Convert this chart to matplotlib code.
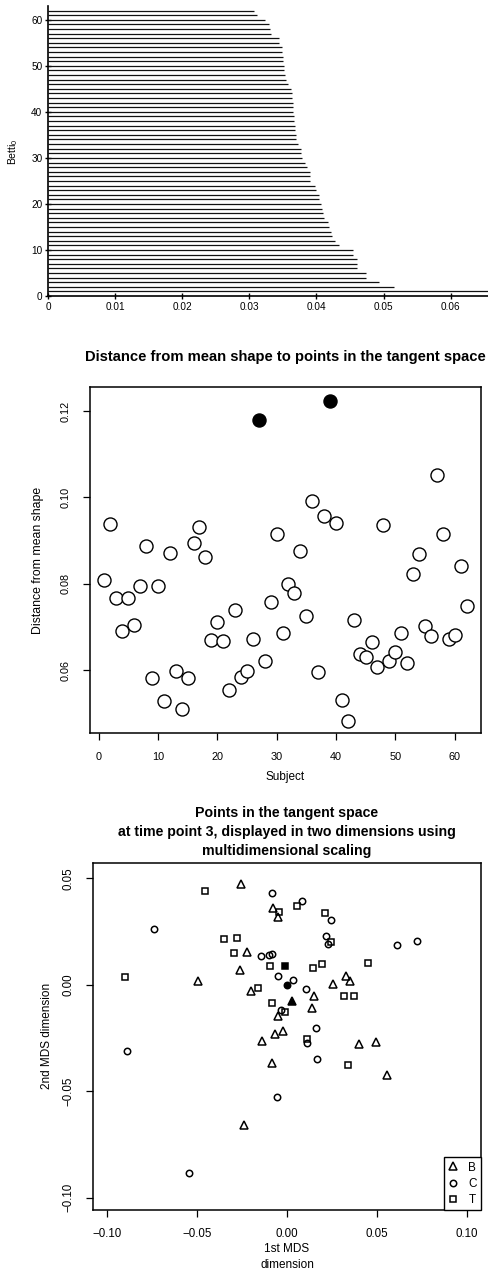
import numpy as np
import matplotlib
matplotlib.use("Agg")
import matplotlib.pyplot as plt
from matplotlib.lines import Line2D

plt.rcParams['font.family'] = ['Liberation Sans', 'DejaVu Sans']
plt.rcParams['mathtext.fontset'] = 'custom'
plt.rcParams['mathtext.rm'] = 'Liberation Sans'
plt.rcParams['mathtext.it'] = 'Liberation Sans'

# ---------------- data ----------------
# Betti-0 barcode: each component is born at 0 and dies at the listed scale;
# the first component never dies.
bar_index = np.arange(1, 63)
bar_death = [np.inf, 0.0515, 0.0493, 0.0474, 0.0474, 0.0461, 0.0460, 0.0460,
             0.0455, 0.0455, 0.0434, 0.0428, 0.0423, 0.0422, 0.0418, 0.0417,
             0.0411, 0.0410, 0.0408, 0.0407, 0.0404, 0.0403, 0.0399, 0.0398,
             0.0391, 0.0390, 0.0390, 0.0386, 0.0383, 0.0378, 0.0377, 0.0377,
             0.0373, 0.0370, 0.0369, 0.0368, 0.0368, 0.0367, 0.0367, 0.0365,
             0.0365, 0.0365, 0.0363, 0.0363, 0.0362, 0.0358, 0.0354, 0.0353,
             0.0352, 0.0351, 0.0350, 0.0350, 0.0349, 0.0348, 0.0344, 0.0344,
             0.0332, 0.0330, 0.0329, 0.0324, 0.0312, 0.0307]
barcode_xticks = [0, 0.01, 0.02, 0.03, 0.04, 0.05, 0.06]
barcode_xlabels = ["0", "0.01", "0.02", "0.03", "0.04", "0.05", "0.06"]
barcode_yticks = [0, 10, 20, 30, 40, 50, 60]

# Distance of each subject's shape from the mean shape
subject = np.arange(1, 63)
distance = [0.0808, 0.0939, 0.0768, 0.0690, 0.0768, 0.0705, 0.0794, 0.0887,
            0.0581, 0.0794, 0.0528, 0.0871, 0.0598, 0.0510, 0.0582, 0.0894,
            0.0932, 0.0863, 0.0670, 0.0712, 0.0668, 0.0553, 0.0740, 0.0584,
            0.0598, 0.0673, 0.1180, 0.0621, 0.0757, 0.0915, 0.0686, 0.0800,
            0.0779, 0.0877, 0.0725, 0.0991, 0.0596, 0.0956, 0.1223, 0.0940,
            0.0530, 0.0482, 0.0715, 0.0636, 0.0630, 0.0666, 0.0607, 0.0937,
            0.0621, 0.0641, 0.0686, 0.0616, 0.0822, 0.0869, 0.0703, 0.0678,
            0.1051, 0.0916, 0.0671, 0.0680, 0.0840, 0.0748]
outlier_subjects = [27, 39]
dist_yticks = [0.06, 0.08, 0.10, 0.12]
dist_ylabels = ["0.06", "0.08", "0.10", "0.12"]

# MDS coordinates at time point 3, by group
b_x = [-0.0256, -0.0078, -0.0048, -0.0225, -0.0260, -0.0493, 0.0330, 0.0349,
       0.0255, -0.0201, 0.0153, 0.0137, -0.0052, -0.0066, -0.0020, -0.0140,
       0.0401, 0.0495, -0.0083, 0.0555, -0.0242]
b_y = [0.0474, 0.0362, 0.0316, 0.0156, 0.0070, 0.0020, 0.0039, 0.0019,
       0.0005, -0.0028, -0.0055, -0.0110, -0.0146, -0.0230, -0.0218, -0.0263,
       -0.0277, -0.0271, -0.0368, -0.0423, -0.0661]
c_x = [-0.0081, 0.0081, 0.0247, -0.0742, 0.0216, 0.0229, 0.0611, 0.0725,
       -0.0144, -0.0100, -0.0081, -0.0052, 0.0035, 0.0103, -0.0035, 0.0159,
       0.0113, 0.0168, -0.0054, -0.0890, -0.0543]
c_y = [0.0430, 0.0394, 0.0305, 0.0260, 0.0227, 0.0191, 0.0189, 0.0207,
       0.0136, 0.0141, 0.0146, 0.0039, 0.0023, -0.0020, -0.0117, -0.0203,
       -0.0274, -0.0349, -0.0527, -0.0310, -0.0884]
t_x = [-0.0456, 0.0054, -0.0044, 0.0214, -0.0349, -0.0281, 0.0247, -0.0295,
       -0.0094, 0.0144, 0.0194, 0.0450, -0.0901, -0.0164, 0.0319, 0.0375,
       -0.0085, -0.0011, 0.0109, 0.0340]
t_y = [0.0441, 0.0372, 0.0344, 0.0336, 0.0213, 0.0222, 0.0203, 0.0149,
       0.0086, 0.0081, 0.0097, 0.0102, 0.0036, -0.0016, -0.0052, -0.0052,
       -0.0086, -0.0128, -0.0255, -0.0379]
# group means (filled symbols)
mean_x = [0.0026, -0.0002, -0.0011]
mean_y = [-0.0078, -0.0002, 0.0086]
group_names = ["B", "C", "T"]
group_markers = ["^", "o", "s"]
mds_ticks = [-0.10, -0.05, 0.00, 0.05, 0.10]
mds_labels = ["\u22120.10", "\u22120.05", "0.00", "0.05", "0.10"]

# ---------------- figure ----------------
W, H, DPI = 489, 1273, 100
fig = plt.figure(figsize=(W / DPI, H / DPI), dpi=DPI)


def fx(px):
    return px / W


def fy(py):
    return 1 - py / H


def box(left, top, right, bottom):
    return [fx(left), fy(bottom), (right - left) / W, (bottom - top) / H]


# ---- panel 1: barcode ----
ax1 = fig.add_axes(box(48, 6, 489, 296))
x_max = 0.0657
ends = np.minimum(np.array(bar_death), x_max)
ax1.hlines(bar_index, 0, ends, color="#111111", lw=0.9)
ax1.set_xlim(0, x_max)
ax1.set_ylim(0, 63)
ax1.set_xticks(barcode_xticks)
ax1.set_xticklabels(barcode_xlabels)
ax1.set_yticks(barcode_yticks)
for s in ("top", "right"):
    ax1.spines[s].set_visible(False)
for s in ("left", "bottom"):
    ax1.spines[s].set_linewidth(1.2)
ax1.tick_params(direction="inout", length=4, width=1.0, labelsize=7.2, pad=2)
fig.text(fx(13), fy(152), r"$\mathrm{Betti}_0$", rotation=90, ha="center",
         va="center", fontsize=7.5)

# ---- panel 2: distance to mean shape ----
ax2 = fig.add_axes(box(90, 387, 481, 733))
open_mask = ~np.isin(subject, outlier_subjects)
ax2.plot(subject[open_mask], np.array(distance)[open_mask], "o", ms=9.4,
         mfc="white", mec="black", mew=1.0, ls="none")
ax2.plot(subject[~open_mask], np.array(distance)[~open_mask], "o", ms=9.4,
         mfc="black", mec="black", mew=1.0, ls="none")
ax2.set_xlim(-1.44, 64.44)
ax2.set_ylim(0.0454, 0.1256)
ax2.set_xticks([0, 10, 20, 30, 40, 50, 60])
ax2.set_yticks(dist_yticks)
ax2.set_yticklabels(dist_ylabels)
for lab in ax2.get_yticklabels():
    lab.set_rotation(90)
    lab.set_va("center")
for s in ax2.spines.values():
    s.set_linewidth(1.1)
ax2.tick_params(direction="out", length=5, width=0.9, labelsize=7.8, pad=9)
fig.text(fx(285), fy(357), "Distance from mean shape to points in the tangent space",
         ha="center", va="center", fontsize=10.6, fontweight="bold")
fig.text(fx(285), fy(777), "Subject", ha="center", va="center", fontsize=8.5)
fig.text(fx(38), fy(560), "Distance from mean shape", rotation=90,
         ha="center", va="center", fontsize=8.8)

# ---- panel 3: MDS ----
ax3 = fig.add_axes(box(93, 863, 481, 1210))
groups = [(b_x, b_y), (c_x, c_y), (t_x, t_y)]
sizes = [5.2, 4.6, 4.6]
for (gx, gy), mk, ms in zip(groups, group_markers, sizes):
    ax3.plot(gx, gy, mk, ms=ms, mfc="none", mec="black", mew=1.1, ls="none")
for mx, my, mk, ms in zip(mean_x, mean_y, group_markers, sizes):
    ax3.plot(mx, my, mk, ms=ms, mfc="black", mec="black", mew=1.1, ls="none")
ax3.set_xlim(-0.108, 0.108)
ax3.set_ylim(-0.1058, 0.0572)
ax3.set_xticks(mds_ticks)
ax3.set_xticklabels(mds_labels)
ax3.set_yticks(mds_ticks[:-1])
ax3.set_yticklabels(mds_labels[:-1])
for lab in ax3.get_yticklabels():
    lab.set_rotation(90)
    lab.set_va("center")
for s in ax3.spines.values():
    s.set_linewidth(1.1)
ax3.tick_params(direction="out", length=5, width=0.9, labelsize=8.3, pad=8)
handles = [Line2D([], [], marker=mk, ms=ms, mfc="none", mec="black", mew=1.1,
                  ls="none") for mk, ms in zip(group_markers, sizes)]
leg = ax3.legend(handles, group_names, loc="lower right", bbox_to_anchor=(1, 0),
                 borderaxespad=0, fontsize=8.5, handlelength=0.8,
                 handletextpad=0.9, labelspacing=0.35, borderpad=0.35,
                 fancybox=False, framealpha=1, edgecolor="black")
leg.get_frame().set_linewidth(1.0)
title_lines = ["Points in the tangent space",
               "at time point 3, displayed in two dimensions using",
               "multidimensional scaling"]
for i, line in enumerate(title_lines):
    fig.text(fx(287), fy(813 + 19 * i), line, ha="center", va="center",
             fontsize=10.2, fontweight="bold")
fig.text(fx(287), fy(1249), "1st MDS", ha="center", va="center", fontsize=8.5)
fig.text(fx(287), fy(1265), "dimension", ha="center", va="center", fontsize=8.5)
fig.text(fx(47), fy(1036), "2nd MDS dimension", rotation=90, ha="center",
         va="center", fontsize=8.5)

fig.savefig("out.png", dpi=DPI)
